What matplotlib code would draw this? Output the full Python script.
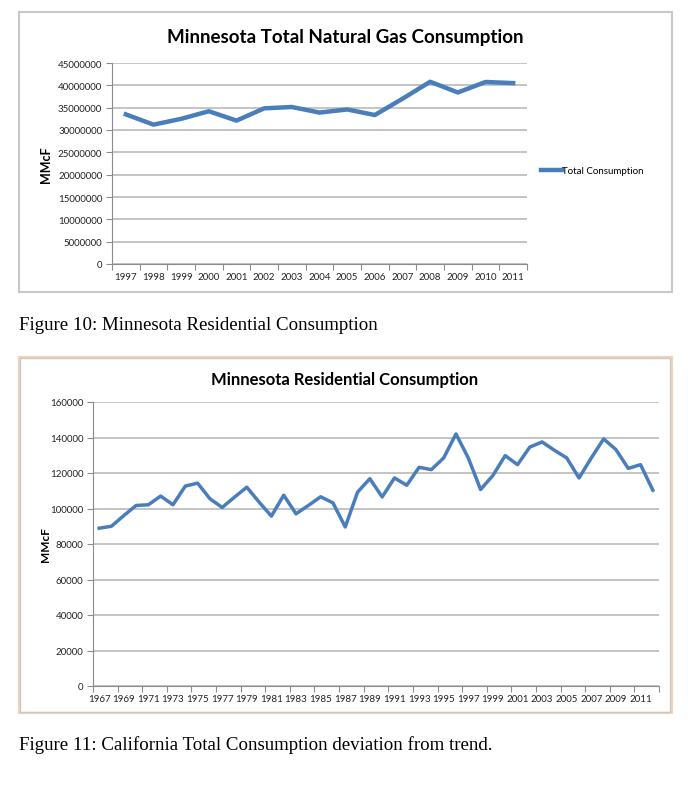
import matplotlib
matplotlib.use("Agg")
import matplotlib.pyplot as plt
from matplotlib.patches import Rectangle
import numpy as np

# data
total_years = [str(y) for y in range(1997, 2012)]
total_consumption = [33.5e6, 31.2e6, 32.5e6, 34.2e6, 32.1e6, 34.85e6, 35.15e6, 33.9e6,
                     34.6e6, 33.35e6, 37.0e6, 40.8e6, 38.4e6, 40.75e6, 40.5e6]

res_years = list(range(1967, 2013))
res_consumption = [88900, 90000, 96000, 101700, 102100, 107000, 102100, 112600, 114300, 105500,
                   100600, 106400, 112000, 103600, 95700, 107500, 97000, 101700, 106600, 103200,
                   89600, 109200, 116800, 106500, 117200, 113100, 123200, 121900, 128500, 142000,
                   128500, 110700, 118600, 129800, 124700, 134600, 137500, 132800, 128500, 117200,
                   128500, 139200, 133200, 122600, 124700, 110300]

W, H = 688, 804
fig = plt.figure(figsize=(W / 100, H / 100), dpi=100)
plt.rcParams['font.family'] = ['Lato', 'DejaVu Sans']

line_col = "#4a7ebb"
grid_col = "#bfbfbf"


def box(x0, y0, x1, y1):
    # pixel box (top-left origin) -> figure fraction rect
    return [x0 / W, 1 - y1 / H, (x1 - x0) / W, (y1 - y0) / H]


def style(ax):
    for s in ["top", "right"]:
        ax.spines[s].set_visible(False)
    for s in ["left", "bottom"]:
        ax.spines[s].set_color("#8c8c8c")
        ax.spines[s].set_linewidth(0.8)
    ax.yaxis.grid(True, color=grid_col, linewidth=1.3)
    ax.set_axisbelow(True)
    ax.tick_params(axis="y", length=4, width=0.8, color="#8c8c8c", labelsize=7, pad=3,
                   labelcolor="#222222")
    ax.tick_params(axis="x", which="major", length=0, labelsize=7, pad=6, labelcolor="#222222")
    ax.tick_params(axis="x", which="minor", length=4, width=0.8, color="#8c8c8c")


# chart frames
fig.add_artist(Rectangle((19 / W, 1 - 293 / H), (672 - 19) / W, (293 - 13) / H,
                         transform=fig.transFigure, fill=False, edgecolor="#c8c8c8", linewidth=1.5))
fig.add_artist(Rectangle((19 / W, 1 - 714 / H), (672 - 19) / W, (714 - 358) / H,
                         transform=fig.transFigure, fill=False, edgecolor="#f3d2b8", linewidth=1.6))
fig.add_artist(Rectangle((20 / W, 1 - 713 / H), (670 - 20) / W, (713 - 359) / H,
                         transform=fig.transFigure, fill=False, edgecolor="#c8c8c8", linewidth=1.0))

# top chart
ax1 = fig.add_axes(box(112, 64, 527, 265))
x1 = np.arange(len(total_years))
ax1.plot(x1, total_consumption, color=line_col, linewidth=3.2, solid_joinstyle="round",
         label="Total Consumption")
ax1.set_xlim(-0.5, len(total_years) - 0.5)
ax1.set_ylim(0, 45000000)
ax1.set_yticks(np.arange(0, 45000001, 5000000))
ax1.set_yticklabels([str(v) for v in range(0, 45000001, 5000000)])
ax1.set_xticks(x1)
ax1.set_xticklabels(total_years)
ax1.set_xticks(np.arange(-0.5, len(total_years)), minor=True)
style(ax1)
ax1.set_ylabel("MMcF", fontsize=9, fontweight="bold")
ax1.yaxis.set_label_coords(-0.145, 0.5)
fig.text(345 / W, 1 - 38 / H, "Minnesota Total Natural Gas Consumption", ha="center", va="center",
         fontsize=13.5, fontweight="bold")
ax1.legend(loc="center left", bbox_to_anchor=(537 / W, 1 - 172 / H), bbox_transform=fig.transFigure,
           frameon=False, fontsize=7, handlelength=2.2, handletextpad=0.0, borderaxespad=0)

# bottom chart
ax2 = fig.add_axes(box(93, 403, 659, 687))
x2 = np.arange(len(res_years))
ax2.plot(x2, res_consumption, color=line_col, linewidth=2.5, solid_joinstyle="round")
ax2.set_xlim(-0.5, len(res_years) - 0.5)
ax2.set_ylim(0, 160000)
ax2.set_yticks(np.arange(0, 160001, 20000))
ax2.set_xticks(x2[::2])
ax2.set_xticklabels([str(y) for y in res_years[::2]])
ax2.set_xticks(np.arange(-0.5, len(res_years), 2), minor=True)
style(ax2)
ax2.set_ylabel("MMcF", fontsize=8.5, fontweight="bold")
ax2.yaxis.set_label_coords(-0.075, 0.5)
fig.text(345 / W, 1 - 380 / H, "Minnesota Residential Consumption", ha="center", va="center",
         fontsize=12, fontweight="bold")

# captions
fig.text(19 / W, 1 - 325 / H, "Figure 10: Minnesota Residential Consumption", ha="left", va="center",
         fontsize=13.6, family=["Liberation Serif", "DejaVu Serif"])
fig.text(19 / W, 1 - 745 / H, "Figure 11: California Total Consumption deviation from trend.",
         ha="left", va="center", fontsize=13.6, family=["Liberation Serif", "DejaVu Serif"])

fig.savefig("out.png", dpi=100)
